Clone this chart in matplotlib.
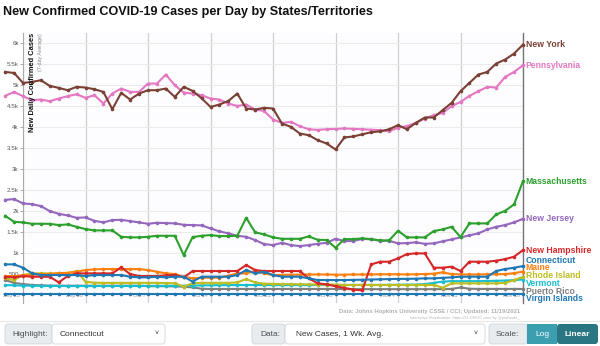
import numpy as np
import pandas as pd
import matplotlib
matplotlib.use('Agg')
import matplotlib.pyplot as plt
import matplotlib.dates as mdates
from matplotlib.patches import FancyBboxPatch, Rectangle
from matplotlib.ticker import FuncFormatter
from matplotlib.transforms import ScaledTranslation

plt.rcParams['font.family'] = ['Liberation Sans', 'DejaVu Sans']

# --- data: 7-day average of new cases, Sep 21 .. Nov 18 2021 ---
dates = pd.date_range('2021-09-21', '2021-11-18')
tick_dates = pd.date_range('2021-09-23', '2021-11-18', freq='7D')

new_york = [5317, 5293, 5055, 5079, 5119, 4984, 4937, 4881, 4961, 4945, 4905, 4841, 4429, 4818, 4659,
            4802, 4881, 4881, 4921, 4722, 4961, 4865, 4690, 4483, 4540, 4626, 4802, 4445, 4421, 4461,
            4445, 4088, 4008, 3849, 3810, 3691, 3612, 3469, 3755, 3780, 3830, 3880, 3900, 3950, 4048,
            3952, 4103, 4231, 4231, 4405, 4580, 4857, 5055, 5255, 5317, 5517, 5612, 5755, 5969]
pennsylvania = [4746, 4841, 4738, 4643, 4659, 4619, 4683, 4738, 4786, 4699, 4762, 4564, 4802, 4921, 4841,
                4841, 5040, 5040, 5255, 5000, 4826, 4802, 4762, 4683, 4659, 4564, 4507, 4540, 4421, 4388,
                4183, 4103, 4127, 4024, 3952, 3936, 3952, 3960, 3969, 3960, 3950, 3940, 3930, 3900, 3990,
                4024, 4103, 4207, 4286, 4341, 4500, 4603, 4746, 4857, 4960, 4945, 5198, 5317, 5476]
massachusetts = [1888, 1745, 1730, 1698, 1698, 1698, 1667, 1683, 1626, 1571, 1540, 1540, 1540, 1388, 1374,
                 1374, 1388, 1412, 1412, 1412, 952, 1381, 1412, 1428, 1405, 1405, 1412, 1840, 1493, 1445,
                 1374, 1340, 1340, 1340, 1397, 1317, 1310, 1127, 1333, 1333, 1350, 1333, 1302, 1302, 1531,
                 1374, 1374, 1374, 1524, 1564, 1626, 1381, 1707, 1707, 1707, 1921, 2007, 2160, 2714]
new_jersey = [2269, 2286, 2183, 2167, 2119, 2000, 1936, 1897, 1840, 1849, 1769, 1731, 1786, 1793, 1762,
              1731, 1698, 1722, 1714, 1707, 1674, 1667, 1660, 1588, 1517, 1469, 1412, 1388, 1310, 1214,
              1190, 1245, 1190, 1167, 1190, 1221, 1245, 1340, 1286, 1286, 1340, 1326, 1293, 1293, 1231,
              1238, 1255, 1221, 1231, 1279, 1326, 1374, 1421, 1469, 1564, 1626, 1667, 1731, 1817]
new_hampshire = [436, 421, 452, 436, 436, 436, 302, 452, 516, 516, 516, 516, 516, 659, 500,
                 452, 452, 452, 470, 480, 420, 572, 572, 572, 572, 572, 572, 714, 595, 572,
                 572, 572, 572, 572, 397, 278, 254, 210, 170, 130, 110, 730, 794, 794, 873,
                 976, 992, 992, 651, 651, 675, 572, 794, 794, 794, 818, 857, 913, 1071]
connecticut = [731, 731, 650, 520, 476, 476, 476, 476, 476, 452, 476, 476, 476, 476, 436,
               421, 421, 436, 421, 437, 437, 320, 437, 437, 437, 437, 476, 595, 516, 556,
               476, 437, 437, 437, 397, 357, 357, 357, 357, 360, 365, 370, 375, 380, 385,
               385, 390, 397, 397, 410, 420, 437, 437, 437, 437, 572, 619, 651, 690]
maine = [452, 452, 470, 480, 500, 500, 520, 530, 556, 595, 611, 619, 619, 619, 619,
         619, 595, 556, 516, 500, 437, 397, 413, 413, 413, 460, 516, 516, 572, 516,
         476, 480, 485, 485, 490, 490, 490, 485, 485, 490, 490, 490, 495, 495, 495,
         490, 495, 500, 510, 540, 500, 490, 490, 490, 495, 495, 500, 520, 560]
rhode_island = [397, 357, 476, 516, 516, 516, 516, 516, 572, 318, 294, 290, 290, 290, 290,
                290, 290, 290, 285, 280, 200, 280, 290, 290, 290, 290, 300, 381, 300, 270,
                265, 260, 260, 255, 255, 250, 250, 250, 240, 240, 240, 240, 240, 240, 240,
                240, 240, 240, 240, 175, 278, 278, 278, 278, 278, 278, 290, 357, 430]
vermont = [238, 230, 225, 220, 218, 216, 216, 214, 214, 214, 214, 214, 214, 214, 216,
           216, 218, 218, 220, 220, 222, 225, 230, 232, 235, 236, 238, 240, 238, 238,
           236, 236, 236, 236, 236, 238, 238, 238, 240, 240, 240, 240, 240, 242, 245,
           248, 250, 260, 290, 320, 330, 330, 330, 330, 335, 340, 345, 357, 370]
puerto_rico = [357, 290, 260, 240, 230, 225, 222, 222, 222, 222, 222, 222, 222, 222, 222,
               222, 210, 210, 210, 205, 200, 180, 150, 145, 145, 145, 145, 145, 145, 145,
               145, 145, 145, 145, 145, 145, 145, 145, 140, 140, 140, 140, 140, 140, 140,
               140, 140, 140, 140, 140, 145, 180, 150, 145, 145, 145, 145, 145, 145]
virgin_islands = [25, 25, 25, 25, 25, 25, 25, 25, 25, 25, 25, 25, 25, 25, 25,
                  25, 25, 25, 25, 25, 25, 25, 25, 25, 25, 25, 25, 25, 25, 25,
                  25, 25, 25, 25, 25, 25, 25, 25, 25, 25, 25, 25, 25, 25, 25,
                  25, 25, 25, 25, 25, 25, 25, 25, 25, 25, 25, 25, 25, 25]

series = [
    ('Virgin Islands', virgin_islands, '#1f77b4'),
    ('Puerto Rico', puerto_rico, '#7f7f7f'),
    ('Vermont', vermont, '#17becf'),
    ('Rhode Island', rhode_island, '#bcbd22'),
    ('Maine', maine, '#ff7f0e'),
    ('New Hampshire', new_hampshire, '#d62728'),
    ('Connecticut', connecticut, '#1f77b4'),
    ('New Jersey', new_jersey, '#9467bd'),
    ('Massachusetts', massachusetts, '#2ca02c'),
    ('Pennsylvania', pennsylvania, '#e377c2'),
    ('New York', new_york, '#7a4034'),
]

W, H = 600, 346
fig = plt.figure(figsize=(W / 100, H / 100), dpi=100)
fig.patch.set_facecolor('white')

# overlay in pixel coords for the page furniture
ov = fig.add_axes([0, 0, 1, 1], zorder=0)
ov.set_xlim(0, W)
ov.set_ylim(H, 0)
ov.axis('off')

ax = fig.add_axes([23 / W, (H - 303) / H, 500 / W, 270 / H], zorder=1)
ax.set_facecolor('#fdfdff')

for name, vals, col in series:
    ax.plot(dates, vals, color=col, lw=1.5, marker='o', ms=2.6, mec=col, mew=0,
            clip_on=False, zorder=3)

ax.set_xlim(tick_dates[0], dates[-1])
ax.set_ylim(-190, 6245)

ax.set_yticks(np.arange(500, 6001, 500))
ax.yaxis.set_major_formatter(FuncFormatter(lambda v, p: '%d' % v if v < 1000 else ('%gk' % (v / 1000))))
ax.tick_params(axis='y', length=2, width=0.6, color='#999999', labelsize=4.5, labelcolor='#555555', pad=1)

ax.set_xticks(tick_dates)
ax.xaxis.set_major_formatter(mdates.DateFormatter('%b %-d'))
ax.tick_params(axis='x', length=0, pad=-7, labelsize=3.8, labelcolor='#999999')
shift = ScaledTranslation(-2 / 72, 0, fig.dpi_scale_trans)
for lab in ax.get_xticklabels():
    lab.set_horizontalalignment('right')
    lab.set_transform(lab.get_transform() + shift)

ax.grid(axis='y', color='#ebebeb', lw=0.8, zorder=0)
ax.grid(axis='x', color='#cfcfcf', lw=0.9, zorder=0)
for s in ['top', 'bottom']:
    ax.spines[s].set_visible(False)
ax.spines['left'].set_color('#aaaaaa')
ax.spines['left'].set_linewidth(0.8)
ax.spines['right'].set_color('#777777')
ax.spines['right'].set_linewidth(1.0)

ax.text(0.013, 1.0, 'New Daily Confirmed Cases', rotation=90, transform=ax.transAxes,
        ha='left', va='top', fontsize=5.4, fontweight='bold', color='#111111')
ax.text(0.03, 1.0, '(7-day Average)', rotation=90, transform=ax.transAxes,
        ha='left', va='top', fontsize=3.8, color='#888888')

# end labels, pushed apart so they do not overlap
ends = sorted([(vals[-1], name, col) for name, vals, col in series])
pos = [e[0] for e in ends]
gap = 185
for _ in range(300):
    for i in range(len(pos) - 1):
        d = pos[i + 1] - pos[i]
        if d < gap:
            pos[i] -= (gap - d) / 2
            pos[i + 1] += (gap - d) / 2
for (v, name, col), y in zip(ends, pos):
    ax.annotate(name, xy=(dates[-1], y), xytext=(2, 0), textcoords='offset points',
                va='center', ha='left', fontsize=6.2, fontweight='bold', color=col,
                annotation_clip=False)

# title
ov.text(3, 12, 'New Confirmed COVID-19 Cases per Day by States/Territories',
        fontsize=9.1, fontweight='bold', color='#111111', va='center', ha='left')

# footer
ov.text(520, 311, 'Data: Johns Hopkins University CSSE / CCI; Updated: 11/19/2021',
        fontsize=4.2, fontweight='bold', color='#b0b0b0', ha='right', va='center')
ov.text(520, 317.5, 'Interactive Visualization: https://91-DIVOC.com/ by @profwade_',
        fontsize=2.8, color='#b8b8b8', ha='right', va='center')
ov.plot([0, W], [321, 321], color='#e6e6e6', lw=0.8)


def box(x0, x1, fc, ec='#ced4da'):
    ov.add_patch(FancyBboxPatch((x0, 324), x1 - x0, 20, boxstyle='round,pad=0,rounding_size=3',
                                fc=fc, ec=ec, lw=0.6))


box(5, 52, '#e9ecef')
box(52, 165, 'white')
ov.text(12, 334, 'Highlight:', fontsize=6, color='#495057', va='center')
ov.text(60, 334, 'Connecticut', fontsize=6, color='#333333', va='center')
ov.text(157, 334, '\u02c5', fontsize=5, color='#333333', va='center', ha='center')

box(252, 285, '#e9ecef')
box(285, 485, 'white')
ov.text(260, 334, 'Data:', fontsize=6, color='#495057', va='center')
ov.text(296, 334, 'New Cases, 1 Wk. Avg.', fontsize=6, color='#333333', va='center')
ov.text(476, 334, '\u02c5', fontsize=5, color='#333333', va='center', ha='center')

box(489, 527, '#e9ecef')
ov.text(496, 334, 'Scale:', fontsize=6, color='#495057', va='center')
ov.add_patch(Rectangle((527, 324), 30, 20, fc='#3c9fb0', ec='none'))
ov.add_patch(FancyBboxPatch((557, 324), 41, 20, boxstyle='round,pad=0,rounding_size=3',
                            fc='#2a7683', ec='none'))
ov.text(542, 334, 'Log', fontsize=6, color='white', va='center', ha='center')
ov.text(577, 334, 'Linear', fontsize=6, color='white', va='center', ha='center', fontweight='bold')

fig.savefig('out.png', dpi=100)
